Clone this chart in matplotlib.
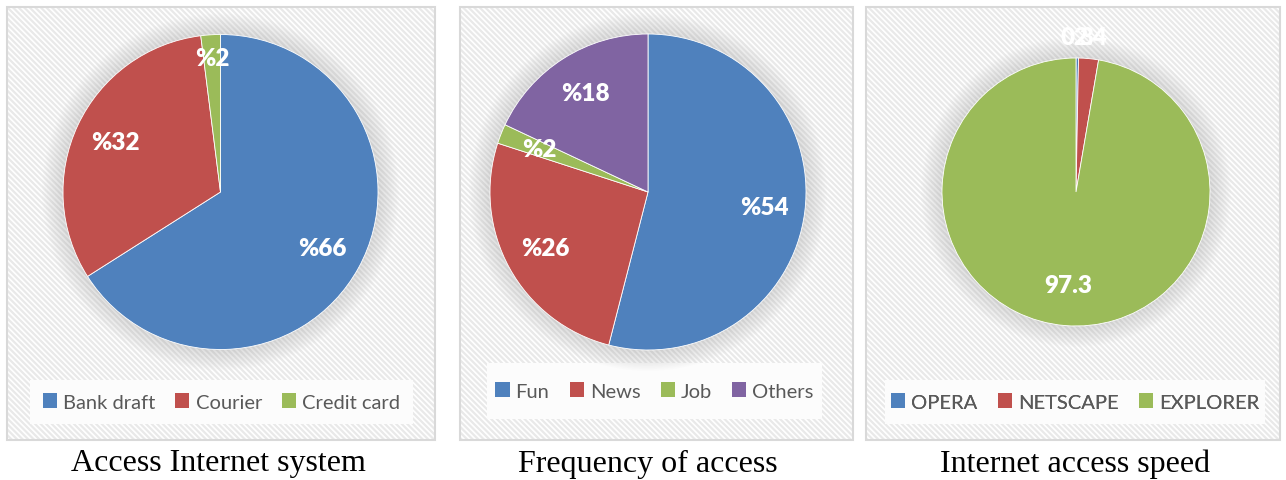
import numpy as np
import matplotlib.pyplot as plt
from matplotlib.patches import Rectangle, Circle

# data
titles = ["Access Internet system", "Frequency of access", "Internet access speed"]
cats1 = ["Bank draft", "Courier", "Credit card"]
vals1 = [66, 32, 2]
cats2 = ["Fun", "News", "Job", "Others"]
vals2 = [54, 26, 2, 18]
cats3 = ["OPERA", "NETSCAPE", "EXPLORER"]
vals3 = [0.3, 2.4, 97.3]

blue, red, green, purple = "#4F81BD", "#C0504D", "#9BBB59", "#8064A2"
colors = [[blue, red, green], [blue, red, green, purple], [blue, red, green]]

plt.rcParams["hatch.linewidth"] = 1.6

W, H = 1286, 481
fig = plt.figure(figsize=(W / 100, H / 100), dpi=100)
ax = fig.add_axes([0, 0, 1, 1])
ax.set_xlim(0, W)
ax.set_ylim(0, H)
ax.set_aspect("equal")
ax.axis("off")


def Y(y):
    # picture rows are counted from the top
    return H - y


# panel boxes, pie centres, radii, legend rows
panels = [(7, 8, 428, 433), (460, 8, 393, 433), (866, 8, 414, 433)]
centres = [(220.5, 193), (648, 193), (1076, 193)]
radii = [157.5, 158, 134]
leg_boxes = [(30, 381, 383, 44), (487, 364, 335, 56), (885, 381, 380, 44)]
title_x = [218, 648, 1075]

datasets = [(cats1, vals1, "%{:g}"), (cats2, vals2, "%{:g}"), (cats3, vals3, "{:g}")]

for i, (cats, vals, fmt) in enumerate(datasets):
    px, py, pw, ph = panels[i]
    ax.add_patch(Rectangle((px, Y(py + ph)), pw, ph, facecolor="white",
                           edgecolor="#e9e9e9", hatch="\\\\\\\\\\\\", linewidth=0, zorder=0))
    ax.add_patch(Rectangle((px, Y(py + ph)), pw, ph, facecolor="none",
                           edgecolor="#d9d9d9", linewidth=1.5, zorder=1))
    lx, ly, lw, lh = leg_boxes[i]
    ax.add_patch(Rectangle((lx, Y(ly + lh)), lw, lh, facecolor="#fcfcfc",
                           edgecolor="none", zorder=1))

    cx, cy = centres[i]
    r = radii[i]
    # soft shadow round the pie
    for k in range(1, 14):
        ax.add_patch(Circle((cx, Y(cy)), r + k * 1.6, facecolor="#9a9a9a",
                            edgecolor="none", alpha=0.025, zorder=1))

    wedges, _ = ax.pie(vals, colors=colors[i], startangle=90, counterclock=False,
                       center=(cx, Y(cy)), radius=r, frame=True,
                       wedgeprops=dict(edgecolor="white", linewidth=0.6))
    for w in wedges:
        w.set_zorder(2)

    total = sum(vals)
    for w, v in zip(wedges, vals):
        mid = np.deg2rad((w.theta1 + w.theta2) / 2)
        frac = v / total
        if i == 2:
            d = 1.16 if frac < 0.05 else 0.70
        elif i == 0 and frac < 0.05:
            d = 0.85
        else:
            d = 0.74
        ax.text(cx + d * r * np.cos(mid), Y(cy) + d * r * np.sin(mid), fmt.format(v),
                color="white", fontsize=17.5, fontweight="heavy", family="Lato",
                ha="center", va="center", zorder=5)

    leg = ax.legend(wedges, cats, loc="center", ncol=len(cats),
                    bbox_to_anchor=(lx + lw / 2, Y(ly + lh / 2)), bbox_transform=ax.transData,
                    frameon=False, handlelength=0.7, handleheight=0.7,
                    handletextpad=0.3, columnspacing=1.0,
                    prop=dict(family="Lato", size=14.5))
    for t in leg.get_texts():
        t.set_color("#595959")
    for h in leg.legend_handles:
        h.set_edgecolor("none")
    ax.add_artist(leg)

    ax.text(title_x[i], Y(464), titles[i], family="Liberation Serif", fontsize=23,
            ha="center", va="center", color="black")

ax.set_xlim(0, W)
ax.set_ylim(0, H)
ax.axis("off")
fig.savefig("out.png", dpi=100)
